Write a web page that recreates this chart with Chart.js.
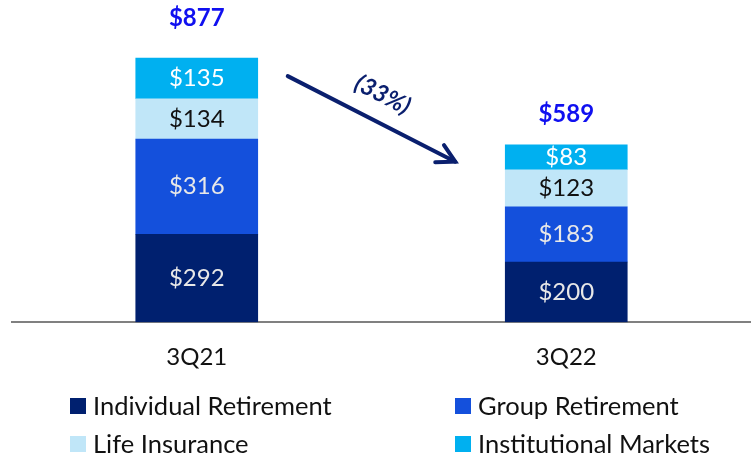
<!DOCTYPE html>
<html>
<head>
<meta charset="utf-8">
<script src="https://cdn.jsdelivr.net/npm/chart.js@4"></script>
<style>
  html, body { margin: 0; padding: 0; background: #fff; }
  #wrap { width: 751px; height: 459px; position: relative; }
</style>
</head>
<body>
<div id="wrap"><canvas id="myChart"></canvas></div>
<script>
const categories = ['3Q21', '3Q22'];
const individualRetirement = [292, 200];
const groupRetirement = [316, 183];
const lifeInsurance = [134, 123];
const institutionalMarkets = [135, 83];
const totals = [877, 589];
const changeLabel = '(33%)';

const FONT = 'Lato, "Noto Sans", sans-serif';

// labels inside each segment
const segmentLabels = {
  id: 'segmentLabels',
  afterDatasetsDraw(chart) {
    const ctx = chart.ctx;
    ctx.save();
    ctx.font = '24px ' + FONT;
    ctx.textAlign = 'center';
    ctx.textBaseline = 'middle';
    chart.data.datasets.forEach((ds, i) => {
      chart.getDatasetMeta(i).data.forEach((bar, j) => {
        ctx.fillStyle = ds.labelColor;
        ctx.fillText('$' + ds.data[j], bar.x, (bar.y + bar.base) / 2);
      });
    });
    // totals on top
    const opts = chart.options.plugins.segmentLabels;
    const x = chart.scales.x, y = chart.scales.y;
    ctx.font = 'bold 24px ' + FONT;
    ctx.fillStyle = '#1010f0';
    totals.forEach((t, j) => {
      ctx.fillText('$' + t, x.getPixelForValue(j), y.getPixelForValue(t) - opts.totalOffset[j]);
    });
    ctx.restore();
  }
};

// arrow between the bars
const changeArrow = {
  id: 'changeArrow',
  afterDraw(chart) {
    const ctx = chart.ctx;
    const x = chart.scales.x, y = chart.scales.y;
    const m0 = chart.getDatasetMeta(0).data;
    const half = m0[0].width / 2;
    const x1 = x.getPixelForValue(0) + half + 30;
    const y1 = y.getPixelForValue(817);
    const x2 = x.getPixelForValue(1) - half - 50;
    const y2 = y.getPixelForValue(533);
    const ang = Math.atan2(y2 - y1, x2 - x1);
    ctx.save();
    ctx.strokeStyle = '#0a1f6e';
    ctx.lineWidth = 4;
    ctx.lineCap = 'round';
    ctx.beginPath();
    ctx.moveTo(x1, y1);
    ctx.lineTo(x2, y2);
    ctx.stroke();
    ctx.beginPath();
    const h = 20;
    ctx.moveTo(x2 - h * Math.cos(ang - 0.5), y2 - h * Math.sin(ang - 0.5));
    ctx.lineTo(x2, y2);
    ctx.lineTo(x2 - h * Math.cos(ang + 0.5), y2 - h * Math.sin(ang + 0.5));
    ctx.stroke();
    // label
    ctx.translate((x1 + x2) / 2 + 11, (y1 + y2) / 2 - 24);
    ctx.rotate(ang);
    ctx.font = 'italic bold 24px ' + FONT;
    ctx.fillStyle = '#0a1f6e';
    ctx.textAlign = 'center';
    ctx.textBaseline = 'middle';
    ctx.fillText(changeLabel, 0, 0);
    ctx.restore();
  }
};

// two-column legend
const gridLegend = {
  id: 'gridLegend',
  afterDraw(chart) {
    const ctx = chart.ctx;
    const cols = [70, 455];
    const rows = [406, 444];
    ctx.save();
    ctx.font = '25.5px ' + FONT;
    ctx.textBaseline = 'middle';
    ctx.textAlign = 'left';
    chart.data.datasets.forEach((ds, k) => {
      const cx = cols[k % 2], cy = rows[Math.floor(k / 2)];
      ctx.fillStyle = ds.backgroundColor;
      ctx.fillRect(cx, cy - 8, 16, 16);
      ctx.fillStyle = '#111';
      ctx.fillText(ds.label, cx + 23, cy + 1);
    });
    ctx.restore();
  }
};

new Chart(document.getElementById('myChart'), {
  type: 'bar',
  data: {
    labels: categories,
    datasets: [
      { label: 'Individual Retirement', data: individualRetirement, backgroundColor: '#00206f', labelColor: '#e8e8e8' },
      { label: 'Group Retirement', data: groupRetirement, backgroundColor: '#1450dc', labelColor: '#e8e8e8' },
      { label: 'Life Insurance', data: lifeInsurance, backgroundColor: '#c0e6f8', labelColor: '#111' },
      { label: 'Institutional Markets', data: institutionalMarkets, backgroundColor: '#00b0f0', labelColor: '#fff' }
    ]
  },
  options: {
    responsive: true,
    maintainAspectRatio: false,
    animation: false,
    layout: { padding: { top: 21, left: 12, right: 0, bottom: 66 } },
    datasets: { bar: { barThickness: 122, borderWidth: 0 } },
    scales: {
      x: {
        stacked: true,
        grid: { display: false, drawTicks: false },
        border: { display: true, color: '#808080', width: 2 },
        ticks: { color: '#111', font: { family: FONT, size: 24 }, padding: 21 }
      },
      y: {
        stacked: true,
        display: false,
        min: 0,
        max: 1000
      }
    },
    plugins: {
      legend: { display: false },
      tooltip: { enabled: false },
      segmentLabels: { totalOffset: [40, 31] }
    }
  },
  plugins: [segmentLabels, changeArrow, gridLegend]
});
</script>
</body>
</html>
